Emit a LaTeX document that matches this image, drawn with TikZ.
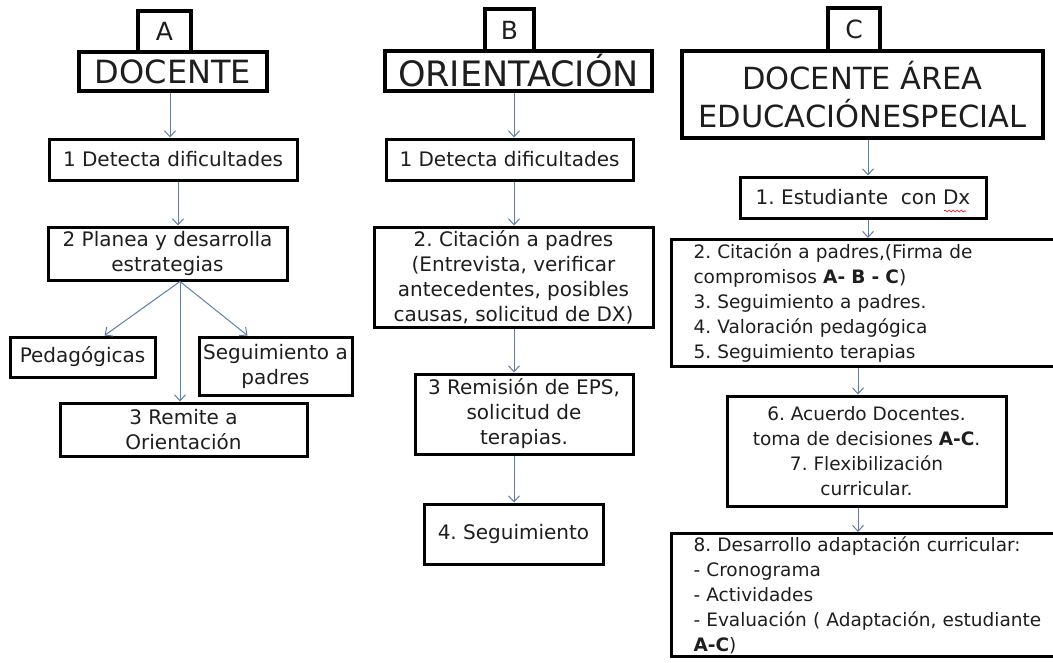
\documentclass[tikz,border=0pt]{standalone}
\usepackage{fontspec}
\setmainfont{DejaVu Sans}
\usetikzlibrary{arrows.meta}
\usetikzlibrary{decorations.pathmorphing}

\definecolor{azulflecha}{RGB}{95,125,170}
\definecolor{tinta}{RGB}{30,30,30}

\begin{document}
\frenchspacing
\begin{tikzpicture}[x=1pt, y=-1pt,
        caja/.style={draw=black, line width=3pt, text=tinta, inner sep=0pt, align=center,
            font=\fontsize{20}{25}\selectfont},
        cajac/.style={caja, font=\fontsize{18.5}{25}\selectfont},
        titulo/.style={caja, line width=3.5pt, font=\fontsize{32}{38}\selectfont},
        letra/.style={caja, line width=3.5pt, font=\fontsize{25}{28}\selectfont},
        lista/.style={cajac, align=left, text width=370pt, inner xsep=22pt, anchor=north west},
        flecha/.style={-{Straight Barb[length=6pt, width=11pt]}, draw=azulflecha, line width=1pt}]

        \useasboundingbox (0,0) rectangle (1053,662);
        \clip (0,0) rectangle (1053,662);

        % Columna A
        \node[titulo, minimum width=188pt, minimum height=39pt] (docA) at (173,71.5) {DOCENTE};
        \node[letra, minimum width=53pt, minimum height=41pt] (letA) at (164.5,31.5) {A};
        \node[caja, minimum width=248pt, minimum height=41pt] (a1) at (173,159.5) {1 Detecta dificultades};
        \node[caja, minimum width=239pt, minimum height=53pt] (a2) at (167.5,253.5) {2 Planea y desarrolla\\estrategias};
        \node[caja, minimum width=145pt, minimum height=40pt] (ped) at (82.5,357) {Pedagógicas};
        \node[caja, minimum width=153pt, minimum height=58pt] (seg) at (275.5,366) {Seguimiento a\\padres};
        \node[caja, minimum width=247pt, minimum height=53pt] (a3) at (183.5,429.5) {3 Remite a\\Orientación};

        \coordinate (ejeA1) at (170,0);
        \coordinate (ejeA2) at (178,0);
        \coordinate (ejeA3) at (180,0);
        \draw[flecha] (ejeA1 |- docA.south) -- (ejeA1 |- a1.north);
        \draw[flecha] (ejeA2 |- a1.south) -- (ejeA2 |- a2.north);
        \coordinate (a2s) at (ejeA3 |- a2.south);
        \draw[flecha] (a2s) -- ([xshift=22pt]ped.north);
        \draw[flecha] (a2s) -- ([xshift=-28pt]seg.north);
        \draw[flecha] (a2s) -- (ejeA3 |- a3.north);

        % Columna B
        \node[titulo, font=\fontsize{35}{38}\selectfont, minimum width=267pt, minimum height=40pt] (topB) at (518.5,71) {ORIENTACIÓN};
        \node[letra, minimum width=49pt, minimum height=42pt] (letB) at (509.5,30) {B};
        \node[caja, minimum width=247pt, minimum height=41pt] (b1) at (509.5,159.5) {1 Detecta dificultades};
        \node[caja, minimum width=279pt, minimum height=100pt] (b2) at (513.5,277)
            {2. Citación a padres\\(Entrevista, verificar\\antecedentes, posibles\\causas, solicitud de DX)};
        \node[caja, minimum width=218pt, minimum height=80pt] (b3) at (524,414) {3 Remisión de EPS,\\solicitud de\\terapias.};
        \node[caja, minimum width=179pt, minimum height=60pt] (b4) at (513.5,534) {4. Seguimiento};

        \coordinate (ejeB) at (514,0);
        \draw[flecha] (ejeB |- topB.south) -- (ejeB |- b1.north);
        \draw[flecha] (ejeB |- b1.south) -- (ejeB |- b2.north);
        \draw[flecha] (ejeB |- b2.south) -- (ejeB |- b3.north);
        \draw[flecha] (ejeB |- b3.south) -- (ejeB |- b4.north);

        % Columna C
        \node[titulo, font=\fontsize{30.5}{38}\selectfont, minimum width=361pt, minimum height=87pt] (topC) at (862.5,94.5) {DOCENTE ÁREA\\EDUCACIÓNESPECIAL};
        \node[letra, minimum width=52pt, minimum height=43pt] (letC) at (854,29.5) {C};
        \node[caja, minimum width=246pt, minimum height=41pt] (c1) at (863,197.5) {1. Estudiante\ \ con Dx};
        \node[lista, minimum height=127pt] (c2) at (670,238)
            {2. Citación a padres,(Firma de\\compromisos \textbf{A- B - C})\\3. Seguimiento a padres.\\4. Valoración pedagógica\\5. Seguimiento terapias};
        \node[cajac, minimum width=279pt, minimum height=110pt] (c3) at (866.5,451)
            {6. Acuerdo Docentes.\\toma de decisiones \textbf{A-C}.\\7. Flexibilización\\curricular.};
        \node[lista, minimum height=123pt] (c4) at (670,532)
            {8. Desarrollo adaptación curricular:\\- Cronograma\\- Actividades\\- Evaluación ( Adaptación, estudiante\\\textbf{A-C})};

        % subrayado rojo
        \draw[red, line width=0.6pt, decorate, decoration={snake, amplitude=1pt, segment length=4pt}]
            (944,211) -- (966,211);

        \coordinate (ejeC1) at (868,0);
        \coordinate (ejeC2) at (858,0);
        \draw[flecha] (ejeC1 |- topC.south) -- (ejeC1 |- c1.north);
        \draw[flecha] (ejeC1 |- c1.south) -- (ejeC1 |- c2.north);
        \draw[flecha] (ejeC2 |- c2.south) -- (ejeC2 |- c3.north);
        \draw[flecha] (ejeC2 |- c3.south) -- (ejeC2 |- c4.north);
\end{tikzpicture}
\end{document}
